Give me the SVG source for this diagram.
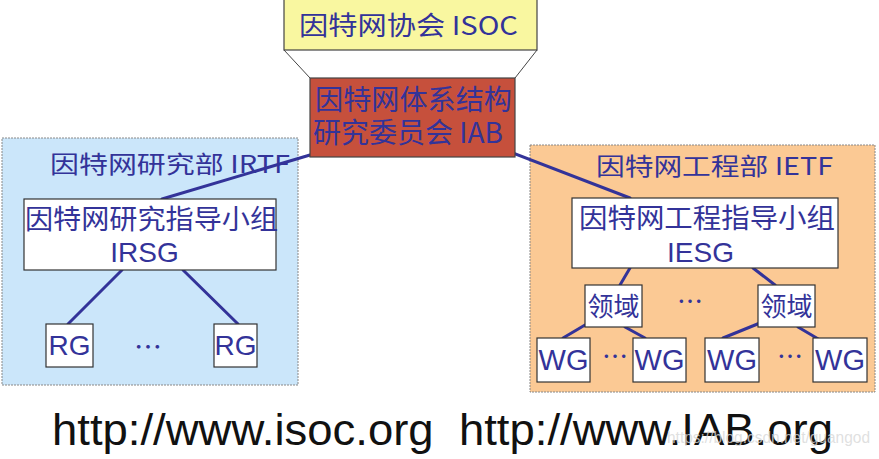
<svg xmlns="http://www.w3.org/2000/svg" width="879" height="459" viewBox="0 0 879 459">
<style>
.t{font-family:"Noto Sans CJK SC","Liberation Sans",sans-serif;fill:#333399}
.l{font-family:"Liberation Sans","Noto Sans CJK SC",sans-serif;fill:#333399}
.box{fill:#ffffff;stroke:#333333;stroke-width:1.2}
.c{stroke:#333399;stroke-width:3;fill:none;stroke-linecap:round}
.g{stroke:#444444;stroke-width:1;fill:none}
</style>
<rect width="879" height="459" fill="#ffffff"/>
<g id="irtf">
<rect x="2" y="138" width="296" height="247" fill="#cbe6fa" stroke="#888888" stroke-width="1" stroke-dasharray="2,1"/>
<text class="t" x="50" y="173" font-size="24" textLength="240" lengthAdjust="spacingAndGlyphs">因特网研究部 IRTF</text>
</g>
<g id="ietf">
<rect x="530" y="145" width="345" height="247" fill="#fbc994" stroke="#888888" stroke-width="1" stroke-dasharray="2,1"/>
<text class="t" x="596" y="175" font-size="24" textLength="237" lengthAdjust="spacingAndGlyphs">因特网工程部 IETF</text>
</g>
<g id="connectors">
<line class="g" x1="284" y1="50" x2="310" y2="78"/>
<line class="g" x1="537" y1="50" x2="515" y2="78"/>
<line class="c" x1="310" y1="155" x2="162" y2="199"/>
<line class="c" x1="505" y1="150" x2="630" y2="198"/>
<line class="c" x1="122" y1="270" x2="68" y2="324"/>
<line class="c" x1="183" y1="270" x2="238" y2="324"/>
<line class="c" x1="630" y1="268" x2="620" y2="285"/>
<line class="c" x1="753" y1="268" x2="775" y2="285"/>
<line class="c" x1="585" y1="325" x2="563" y2="338"/>
<line class="c" x1="625" y1="327" x2="645" y2="338"/>
<line class="c" x1="760" y1="323" x2="723" y2="338"/>
<line class="c" x1="798" y1="327" x2="820" y2="340"/>
</g>
<g id="isoc">
<rect x="284" y="-2" width="253" height="52" fill="#f9f7a0" stroke="#444444" stroke-width="1.2"/>
<text class="t" x="299" y="35" font-size="26" textLength="219" lengthAdjust="spacingAndGlyphs">因特网协会 ISOC</text>
</g>
<g id="iab">
<rect x="310" y="78" width="205" height="79" fill="#c6503c" stroke="#444444" stroke-width="1.2"/>
<text class="t" font-size="28"><tspan x="315" y="110" textLength="197" lengthAdjust="spacingAndGlyphs">因特网体系结构</tspan><tspan x="313" y="143" textLength="190" lengthAdjust="spacingAndGlyphs">研究委员会 IAB</tspan></text>
</g>
<g id="irsg">
<rect class="box" x="24" y="199" width="252" height="71"/>
<text class="t" x="25" y="229" font-size="27" textLength="253" lengthAdjust="spacingAndGlyphs">因特网研究指导小组</text>
<text class="l" x="144.5" y="262" font-size="28" text-anchor="middle">IRSG</text>
</g>
<g id="rg1">
<rect class="box" x="46" y="324" width="47" height="43"/>
<text class="l" x="69.5" y="355" font-size="28" text-anchor="middle">RG</text>
</g>
<g id="rg-dots">
<text class="t" x="148" y="358" font-size="28" text-anchor="middle">…</text>
</g>
<g id="rg2">
<rect class="box" x="214" y="324" width="43" height="43"/>
<text class="l" x="235.5" y="355" font-size="28" text-anchor="middle">RG</text>
</g>
<g id="iesg">
<rect class="box" x="572" y="198" width="266" height="70"/>
<text class="t" x="579" y="228" font-size="27" textLength="256" lengthAdjust="spacingAndGlyphs">因特网工程指导小组</text>
<text class="l" x="700.5" y="262" font-size="28" text-anchor="middle">IESG</text>
</g>
<g id="area1">
<rect class="box" x="585" y="285" width="57" height="42"/>
<text class="t" x="613.5" y="316" font-size="26" text-anchor="middle">领域</text>
</g>
<g id="area-dots">
<text class="t" x="690" y="311" font-size="26" text-anchor="middle">…</text>
</g>
<g id="area2">
<rect class="box" x="758" y="285" width="57" height="42"/>
<text class="t" x="786.5" y="316" font-size="26" text-anchor="middle">领域</text>
</g>
<g id="wg1">
<rect class="box" x="537" y="338" width="53" height="44"/>
<text class="l" x="563.5" y="370" font-size="29" text-anchor="middle">WG</text>
</g>
<g id="wg-dots1">
<text class="t" x="615" y="366" font-size="26" text-anchor="middle">…</text>
</g>
<g id="wg2">
<rect class="box" x="633" y="338" width="53" height="44"/>
<text class="l" x="659.5" y="370" font-size="29" text-anchor="middle">WG</text>
</g>
<g id="wg3">
<rect class="box" x="705" y="338" width="54" height="44"/>
<text class="l" x="732" y="370" font-size="29" text-anchor="middle">WG</text>
</g>
<g id="wg-dots2">
<text class="t" x="790" y="366" font-size="26" text-anchor="middle">…</text>
</g>
<g id="wg4">
<rect class="box" x="813" y="338" width="54" height="44"/>
<text class="l" x="840" y="370" font-size="29" text-anchor="middle">WG</text>
</g>
<g id="urls">
<text x="52" y="445" font-family="Liberation Sans, sans-serif" font-size="44" fill="#111111" textLength="781" lengthAdjust="spacingAndGlyphs" xml:space="preserve">http://www.isoc.org  http://www.IAB.org</text>
<text x="667" y="443" font-family="Liberation Sans, sans-serif" font-size="16" fill="#d8d8d8" fill-opacity="0.8" textLength="203" lengthAdjust="spacingAndGlyphs">https://blog.csdn.net/guangod</text>
</g>
</svg>
